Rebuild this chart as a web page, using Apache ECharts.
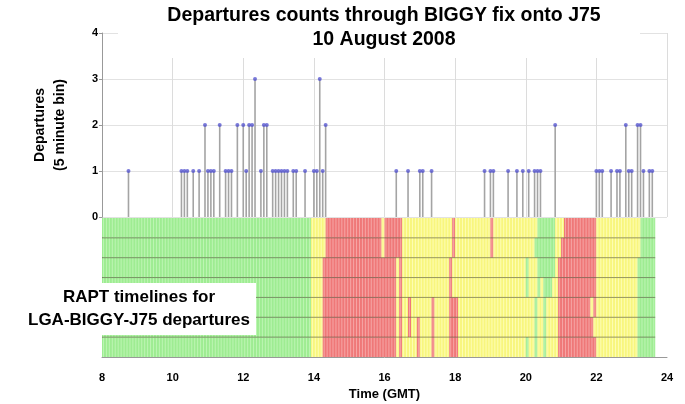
<!DOCTYPE html>
<html>
<head>
<meta charset="utf-8">
<script src="https://cdn.jsdelivr.net/npm/echarts@6/dist/echarts.min.js"></script>
<style>
  html, body { margin: 0; padding: 0; background: #fff; }
  #chart { width: 685px; height: 404px; }
</style>
</head>
<body>
<div id="chart"></div>
<script>
// departures per 5 minute bin (bin start time, count)
var depTimes = ['08:45',
  '10:15','10:20','10:25','10:35','10:45','10:55','11:00','11:05','11:10','11:20',
  '11:30','11:35','11:40','11:50','12:00','12:05','12:10','12:15','12:20','12:30',
  '12:35','12:40','12:50','12:55','13:00','13:05','13:10','13:15','13:25','13:30',
  '13:45','14:00','14:05','14:10','14:15','14:20',
  '16:20','16:40','17:00','17:05','17:20',
  '18:50','19:00','19:05','19:30','19:45','19:55','20:05','20:15','20:20','20:25','20:50',
  '22:00','22:05','22:10','22:25','22:35','22:40','22:50','22:55','23:00','23:10',
  '23:15','23:20','23:30','23:35'];
var depCounts = [1,
  1,1,1,1,1,2,1,1,1,2,
  1,1,1,2,2,1,2,2,3,1,
  2,2,1,1,1,1,1,1,1,1,
  1,1,1,3,1,2,
  1,1,1,1,1,
  1,1,1,1,1,1,1,1,1,1,2,
  1,1,1,1,1,1,2,1,1,2,
  2,1,1,1];

// RAPT timelines: state changes [time, state]  G = green, Y = yellow, R = red
var raptEnd = '23:40';
var raptRow1 = [['08:00','G'],['13:55','Y'],['14:20','R'],['15:55','Y'],['16:00','R'],['16:30','Y'],
  ['17:55','R'],['18:00','Y'],['19:00','R'],['19:05','Y'],['20:20','G'],['20:50','Y'],['21:05','R'],
  ['22:00','Y'],['23:15','G']];
var raptRow2 = [['08:00','G'],['13:55','Y'],['14:20','R'],['15:55','Y'],['16:00','R'],['16:30','Y'],
  ['17:55','R'],['18:00','Y'],['19:00','R'],['19:05','Y'],['20:15','G'],['20:50','Y'],['21:00','R'],
  ['22:00','Y'],['23:15','G']];
var raptRow3 = [['08:00','G'],['13:55','Y'],['14:15','R'],['16:20','Y'],['16:25','R'],['16:30','Y'],
  ['17:50','R'],['17:55','Y'],['20:00','G'],['20:05','Y'],['20:20','G'],['20:50','Y'],['20:55','R'],
  ['22:00','Y'],['23:10','G']];
var raptRow4 = [['08:00','G'],['13:55','Y'],['14:15','R'],['16:20','Y'],['16:25','R'],['16:30','Y'],
  ['17:50','R'],['17:55','Y'],['20:00','G'],['20:05','Y'],['20:20','G'],['20:25','Y'],['20:30','G'],
  ['20:45','Y'],['20:55','R'],['22:00','Y'],['23:10','G']];
var raptRow5 = [['08:00','G'],['13:55','Y'],['14:15','R'],['16:20','Y'],['16:25','R'],['16:30','Y'],
  ['16:40','R'],['16:45','Y'],['17:20','R'],['17:25','Y'],['17:50','R'],['18:05','Y'],['20:15','G'],
  ['20:20','Y'],['20:30','G'],['20:35','Y'],['20:55','R'],['21:50','Y'],['21:55','R'],['22:00','Y'],
  ['23:10','G']];
var raptRow6 = [['08:00','G'],['13:55','Y'],['14:15','R'],['16:20','Y'],['16:25','R'],['16:30','Y'],
  ['16:40','R'],['16:45','Y'],['16:55','R'],['17:00','Y'],['17:20','R'],['17:25','Y'],['17:50','R'],
  ['18:05','Y'],['20:15','G'],['20:20','Y'],['20:30','G'],['20:35','Y'],['20:55','R'],['21:55','Y'],
  ['23:10','G']];
var raptRow7 = [['08:00','G'],['13:55','Y'],['14:15','R'],['16:20','Y'],['16:25','R'],['16:30','Y'],
  ['16:55','R'],['17:00','Y'],['17:20','R'],['17:25','Y'],['17:50','R'],['18:05','Y'],['20:00','G'],
  ['20:05','Y'],['20:15','G'],['20:20','Y'],['20:30','G'],['20:35','Y'],['20:55','R'],['22:00','Y'],
  ['23:10','G']];
var raptRows = [raptRow1, raptRow2, raptRow3, raptRow4, raptRow5, raptRow6, raptRow7];

var xTicks = [8, 10, 12, 14, 16, 18, 20, 22, 24];

var binH = 5 / 60;
var fills = { G: '#9eec92', Y: '#f8f67e', R: '#ef7878' };
var strokes = { G: '#bdf5b3', Y: '#fdfdb4', R: '#f6a6a6' };
var font = '"Liberation Sans", Arial, sans-serif';

function toH(s) {
  var p = s.split(':');
  return +p[0] + (+p[1]) / 60;
}

var stemData = depTimes.map(function (t, i) { return [toH(t), depCounts[i]]; });

var cellData = [];
raptRows.forEach(function (row, r) {
  row.forEach(function (seg, i) {
    var s = toH(seg[0]);
    var e = toH(i + 1 < row.length ? row[i + 1][0] : raptEnd);
    cellData.push([s, e, r, seg[1]]);
  });
});
var sepData = [1, 2, 3, 4, 5, 6];

var chart = echarts.init(document.getElementById('chart'));

var option = {
  animation: false,
  title: {
    text: 'Departures counts through BIGGY fix onto J75\n10 August 2008',
    left: 384,
    top: 0,
    textAlign: 'center',
    padding: [4, 0, 6, 0],
    textStyle: { fontFamily: font, fontWeight: 'bold', fontSize: 19.5, lineHeight: 24, color: '#000' },
    z: 20
  },
  grid: [
    { left: 102, right: 18, top: 33, height: 184 },
    { left: 102, right: 18, top: 218, height: 139 }
  ],
  xAxis: [
    {
      gridIndex: 0, type: 'value', min: 8, max: 24, interval: 2,
      axisLine: { show: false }, axisTick: { show: false }, axisLabel: { show: false },
      splitLine: { show: true, lineStyle: { color: '#dcdcdc', width: 1 } }
    },
    {
      gridIndex: 1, type: 'value', min: 8, max: 24, interval: 2,
      axisLine: { show: true, onZero: false, lineStyle: { color: '#999' } },
      axisTick: { show: false },
      axisLabel: {
        margin: 15, color: '#000', fontFamily: font, fontWeight: 'bold', fontSize: 11,
        customValues: xTicks
      },
      splitLine: { show: false },
      name: 'Time (GMT)', nameLocation: 'middle', nameGap: 31,
      nameTextStyle: { color: '#000', fontFamily: font, fontWeight: 'bold', fontSize: 13 }
    }
  ],
  yAxis: [
    {
      gridIndex: 0, type: 'value', min: 0, max: 4, interval: 1,
      axisLine: { show: true, lineStyle: { color: '#999' } },
      axisTick: { show: true, length: 3, lineStyle: { color: '#999' } },
      axisLabel: { margin: 4, color: '#000', fontFamily: font, fontWeight: 'bold', fontSize: 11 },
      splitLine: { show: true, lineStyle: { color: '#e2e2e2' } },
      name: 'Departures\n(5 minute bin)', nameLocation: 'middle', nameGap: 32, nameRotate: 90,
      nameTextStyle: { color: '#000', fontFamily: font, fontWeight: 'bold', fontSize: 14, lineHeight: 20 }
    },
    {
      gridIndex: 1, type: 'value', min: 0, max: 7, inverse: true,
      axisLine: { show: true, lineStyle: { color: '#999' } },
      axisTick: { show: false }, axisLabel: { show: false }, splitLine: { show: false }
    }
  ],
  graphic: [
    // white area behind the title hides the top of the grid
    { type: 'rect', left: 118, top: 0, z: 5, shape: { width: 522, height: 58 }, style: { fill: '#fff' } },
    // label box over the timelines
    { type: 'rect', left: 22, top: 283, z: 100, shape: { width: 234, height: 52 }, style: { fill: '#fff' } },
    {
      type: 'text', x: 139, y: 286, z: 101,
      style: {
        text: 'RAPT timelines for\nLGA-BIGGY-J75 departures',
        align: 'center', verticalAlign: 'top', font: 'bold 17px ' + font, lineHeight: 23, fill: '#000'
      }
    }
  ],
  series: [
    {
      type: 'custom', name: 'stems', xAxisIndex: 0, yAxisIndex: 0, z: 6,
      data: stemData,
      renderItem: function (params, api) {
        var p0 = api.coord([api.value(0), 0]);
        var p1 = api.coord([api.value(0), api.value(1)]);
        return {
          type: 'line',
          shape: { x1: p0[0], y1: p0[1], x2: p1[0], y2: p1[1] },
          style: { stroke: '#a4a4a4', lineWidth: 1.6 }
        };
      }
    },
    {
      type: 'scatter', name: 'departures', xAxisIndex: 0, yAxisIndex: 0,
      data: stemData, symbol: 'circle', symbolSize: 4,
      itemStyle: { color: '#5858d0' }, z: 7
    },
    {
      type: 'custom', name: 'rapt', xAxisIndex: 1, yAxisIndex: 1,
      data: cellData,
      renderItem: function (params, api) {
        var d = cellData[params.dataIndex];
        var s = d[0], e = d[1], r = d[2], st = d[3];
        var p0 = api.coord([s, r]);
        var p1 = api.coord([e, r + 1]);
        var children = [{
          type: 'rect',
          shape: { x: p0[0], y: p0[1], width: p1[0] - p0[0], height: p1[1] - p0[1] },
          style: { fill: fills[st] }
        }];
        for (var t = s + binH / 2; t < e - 1e-6; t += binH) {
          var x = api.coord([t, r])[0];
          children.push({
            type: 'line',
            shape: { x1: x, y1: p0[1], x2: x, y2: p1[1] },
            style: { stroke: strokes[st], lineWidth: 1 }
          });
        }
        return { type: 'group', children: children };
      }
    },
    {
      type: 'custom', name: 'rowLines', xAxisIndex: 1, yAxisIndex: 1,
      data: sepData, z: 3,
      renderItem: function (params, api) {
        var y = sepData[params.dataIndex];
        var p0 = api.coord([8, y]);
        var p1 = api.coord([toH(raptEnd), y]);
        return {
          type: 'line',
          shape: { x1: p0[0], y1: p0[1], x2: p1[0], y2: p1[1] },
          style: { stroke: 'rgba(70,70,40,0.55)', lineWidth: 1 }
        };
      }
    }
  ]
};

chart.setOption(option);

window.onresize = function () {
  chart.resize();
};
</script>
</body>
</html>
